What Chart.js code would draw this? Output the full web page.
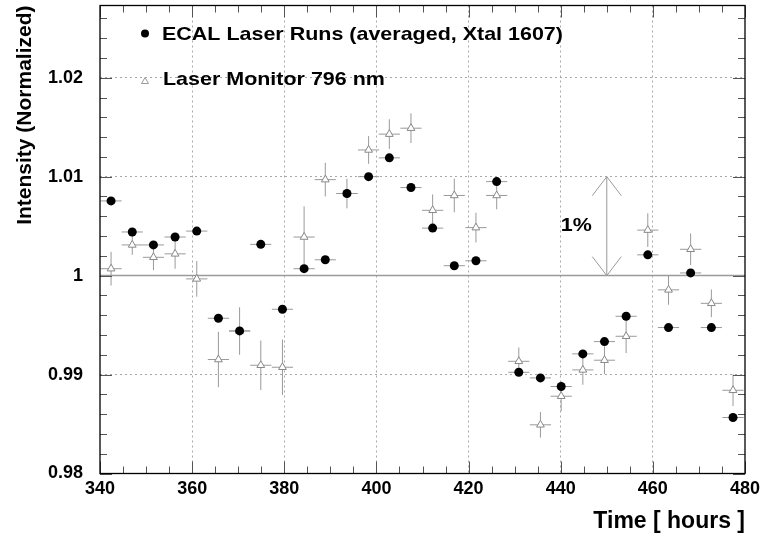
<!DOCTYPE html>
<html>
<head>
<meta charset="utf-8">
<script src="https://cdn.jsdelivr.net/npm/chart.js@4/dist/chart.umd.min.js"></script>
<style>
  html, body { margin: 0; padding: 0; background: #fff; }
  canvas { display: block; }
</style>
</head>
<body>
<canvas id="chart" width="760" height="540"></canvas>
<script>
// time of each run (hours)
const times = [342.4, 347.0, 351.6, 356.3, 361.0, 365.7, 370.3, 374.9, 379.6, 384.3,
               388.9, 393.6, 398.3, 402.8, 407.5, 412.2, 416.9, 421.6, 426.1, 430.9,
               435.6, 440.1, 444.8, 449.5, 454.2, 458.9, 463.4, 468.2, 472.7, 477.4];

// ECAL laser runs (averaged, Xtal 1607)
const ecal = [1.00755, 1.00441, 1.0031, 1.0039, 1.0045, 0.99569, 0.99441, 1.00316, 0.9966, 1.0007,
              1.0016, 1.0083, 1.0100, 1.0119, 1.0089, 1.0048, 1.0010, 1.0015, 1.0095, 0.99023,
              0.98966, 0.98879, 0.99209, 0.99333, 0.99589, 1.0021, 0.99475, 1.00027, 0.99475, 0.98566];

// laser monitor 796 nm and its errors
const monitor = [1.0007, 1.0031, 1.00185, 1.0022, 0.99967, 0.99152, 0.9944, 0.99094, 0.99074, 1.0039,
                 1.0097, 1.0083, 1.0127, 1.0143, 1.0149, 1.0066, 1.0081, 1.00485, 1.0081, 0.99134,
                 0.98492, 0.98781, 0.99047, 0.99145, 0.99387, 1.0046, 0.99856, 1.00266, 0.9972, 0.98841];
const monitorErr = [0.0017, 0.0010, 0.0013, 0.0015, 0.0018, 0.0028, 0.0024, 0.0025, 0.0028, 0.0031,
                    0.0017, 0.0015, 0.0014, 0.0015, 0.0015, 0.0016, 0.0017, 0.0015, 0.0014, 0.0014,
                    0.0013, 0.0015, 0.0015, 0.0014, 0.0017, 0.0017, 0.0015, 0.0016, 0.0014, 0.0016];
const timeHalfWidth = 2.3;

const xTicks = [340, 360, 380, 400, 420, 440, 460, 480];
const yTicks = [0.98, 0.99, 1, 1.01, 1.02];
const xMinorStep = 5;
const yMinorStep = 0.002;

// the "1%" arrow
const arrowX = 450;
const arrowFrom = 1.0;
const arrowTo = 1.01;
const arrowLabel = '1%';

const FONT = '"Liberation Sans", Arial, Helvetica, sans-serif';
const GRAY = '#9a9a9a';

// draws text a bit wider, like the original canvas
function wideText(ctx, text, x, y, size, align) {
  ctx.save();
  ctx.font = 'bold ' + size + 'px ' + FONT;
  ctx.textBaseline = 'middle';
  ctx.textAlign = 'left';
  const w = ctx.measureText(text).width * 1.13;
  let x0 = x;
  if (align === 'right') x0 = x - w;
  if (align === 'center') x0 = x - w / 2;
  ctx.translate(x0, y);
  ctx.scale(1.13, 1);
  ctx.fillStyle = '#000';
  ctx.fillText(text, 0, 0);
  ctx.restore();
}

const framePlugin = {
  id: 'frame',
  beforeDatasetsDraw(chart) {
    const { ctx, chartArea: a, scales: { x, y } } = chart;
    ctx.save();
    ctx.beginPath();
    ctx.rect(a.left, a.top, a.right - a.left, a.bottom - a.top);
    ctx.clip();

    // reference line at 1
    ctx.strokeStyle = GRAY;
    ctx.lineWidth = 1.5;
    ctx.beginPath();
    ctx.moveTo(a.left, y.getPixelForValue(1));
    ctx.lineTo(a.right, y.getPixelForValue(1));
    ctx.stroke();

    // error bars
    ctx.lineWidth = 1;
    ctx.strokeStyle = GRAY;
    ctx.beginPath();
    times.forEach((t, i) => {
      const xl = x.getPixelForValue(t - timeHalfWidth);
      const xr = x.getPixelForValue(t + timeHalfWidth);
      let py = y.getPixelForValue(monitor[i]);
      ctx.moveTo(xl, py); ctx.lineTo(xr, py);
      ctx.moveTo(x.getPixelForValue(t), y.getPixelForValue(monitor[i] - monitorErr[i]));
      ctx.lineTo(x.getPixelForValue(t), y.getPixelForValue(monitor[i] + monitorErr[i]));
      py = y.getPixelForValue(ecal[i]);
      ctx.moveTo(xl, py); ctx.lineTo(xr, py);
    });
    ctx.stroke();

    // arrow
    const ax = x.getPixelForValue(arrowX);
    const y0 = y.getPixelForValue(arrowFrom);
    const y1 = y.getPixelForValue(arrowTo);
    ctx.beginPath();
    ctx.moveTo(ax, y0); ctx.lineTo(ax, y1);
    ctx.moveTo(ax - 14.5, y1 + 19); ctx.lineTo(ax, y1); ctx.lineTo(ax + 14.5, y1 + 19);
    ctx.moveTo(ax - 14.5, y0 - 19); ctx.lineTo(ax, y0); ctx.lineTo(ax + 14.5, y0 - 19);
    ctx.stroke();
    ctx.restore();
  },
  afterDraw(chart) {
    const { ctx, chartArea: a, scales: { x, y } } = chart;
    ctx.save();

    // ticks on all four sides, pointing inward
    ctx.strokeStyle = '#555';
    ctx.lineWidth = 1;
    ctx.beginPath();
    for (let v = xTicks[0]; v <= xTicks[xTicks.length - 1] + 1e-9; v += xMinorStep) {
      const px = Math.round(x.getPixelForValue(v)) + 0.5;
      const len = (v % 20 === 0) ? 12 : 7;
      ctx.moveTo(px, a.bottom); ctx.lineTo(px, a.bottom - len);
      ctx.moveTo(px, a.top); ctx.lineTo(px, a.top + len);
    }
    for (let v = yTicks[0]; v <= y.max + 1e-9; v += yMinorStep) {
      const py = Math.round(y.getPixelForValue(v)) + 0.5;
      const major = Math.abs(Math.round(v * 100) - v * 100) < 1e-6;
      const len = major ? 12 : 7;
      ctx.moveTo(a.left, py); ctx.lineTo(a.left + len, py);
      ctx.moveTo(a.right, py); ctx.lineTo(a.right - len, py);
    }
    ctx.stroke();

    // frame
    ctx.strokeStyle = '#000';
    ctx.lineWidth = 1.3;
    ctx.strokeRect(a.left, a.top, a.right - a.left, a.bottom - a.top);

    // legend
    const ds = chart.data.datasets;
    ctx.fillStyle = '#000';
    ctx.beginPath();
    ctx.arc(145, 33.5, 4, 0, Math.PI * 2);
    ctx.fill();
    wideText(ctx, ds[0].label, 162, 35, 19, 'left');
    ctx.strokeStyle = GRAY;
    ctx.fillStyle = '#fff';
    ctx.lineWidth = 1;
    ctx.beginPath();
    ctx.moveTo(145, 77.5); ctx.lineTo(148.5, 83.5); ctx.lineTo(141.5, 83.5); ctx.closePath();
    ctx.fill(); ctx.stroke();
    wideText(ctx, ds[1].label, 163, 80, 19, 'left');

    // arrow label
    const ax = x.getPixelForValue(arrowX);
    wideText(ctx, arrowLabel, ax - 15, y.getPixelForValue((arrowFrom + arrowTo) / 2), 19, 'right');
    ctx.restore();
  }
};

new Chart(document.getElementById('chart'), {
  type: 'scatter',
  data: {
    datasets: [
      {
        label: 'ECAL Laser Runs (averaged, Xtal 1607)',
        data: times.map((t, i) => ({ x: t, y: ecal[i] })),
        pointStyle: 'circle',
        pointRadius: 4.5,
        pointBackgroundColor: '#000',
        pointBorderColor: '#000',
        pointBorderWidth: 0
      },
      {
        label: 'Laser Monitor 796 nm',
        data: times.map((t, i) => ({ x: t, y: monitor[i] })),
        pointStyle: 'triangle',
        pointRadius: 4.5,
        pointBackgroundColor: '#fff',
        pointBorderColor: '#888',
        pointBorderWidth: 1
      }
    ]
  },
  options: {
    responsive: false,
    animation: false,
    devicePixelRatio: 1,
    layout: { padding: { left: 13, top: 5, right: 15, bottom: 5 } },
    plugins: {
      legend: { display: false },
      tooltip: { enabled: false }
    },
    scales: {
      x: {
        type: 'linear',
        min: 340,
        max: 480,
        afterBuildTicks: s => { s.ticks = xTicks.map(v => ({ value: v })); },
        afterFit: s => { s.height = 61.5; s.paddingLeft = 0; s.paddingRight = 0; },
        ticks: {
          color: '#000',
          padding: 5,
          maxRotation: 0,
          font: { family: FONT, size: 18, weight: 'bold' }
        },
        grid: {
          drawTicks: false,
          color: c => (c.tick && (c.tick.value === 340 || c.tick.value === 480)) ? 'rgba(0,0,0,0)' : '#a8a8a8',
          lineWidth: 1
        },
        border: { display: false, dash: [2, 3] },
        title: {
          display: true,
          text: 'Time [ hours ]',
          align: 'end',
          color: '#000',
          padding: 0,
          font: { family: FONT, size: 23, weight: 'bold' }
        }
      },
      y: {
        type: 'linear',
        min: 0.98,
        max: 1.0273,
        afterBuildTicks: s => { s.ticks = yTicks.map(v => ({ value: v })); },
        afterFit: s => { s.width = 87; s.paddingTop = 0; s.paddingBottom = 0; },
        ticks: {
          color: '#000',
          padding: 17,
          font: { family: FONT, size: 18, weight: 'bold' },
          callback: v => String(Math.round(v * 100) / 100)
        },
        grid: {
          drawTicks: false,
          color: c => (c.tick && (c.tick.value === 0.98 || c.tick.value === 1)) ? 'rgba(0,0,0,0)' : '#a8a8a8',
          lineWidth: 1
        },
        border: { display: false, dash: [2, 3] },
        title: {
          display: true,
          text: 'Intensity (Normalized)',
          align: 'end',
          color: '#000',
          padding: 0,
          font: { family: FONT, size: 21, weight: 'bold' }
        }
      }
    }
  },
  plugins: [framePlugin]
});
</script>
</body>
</html>
